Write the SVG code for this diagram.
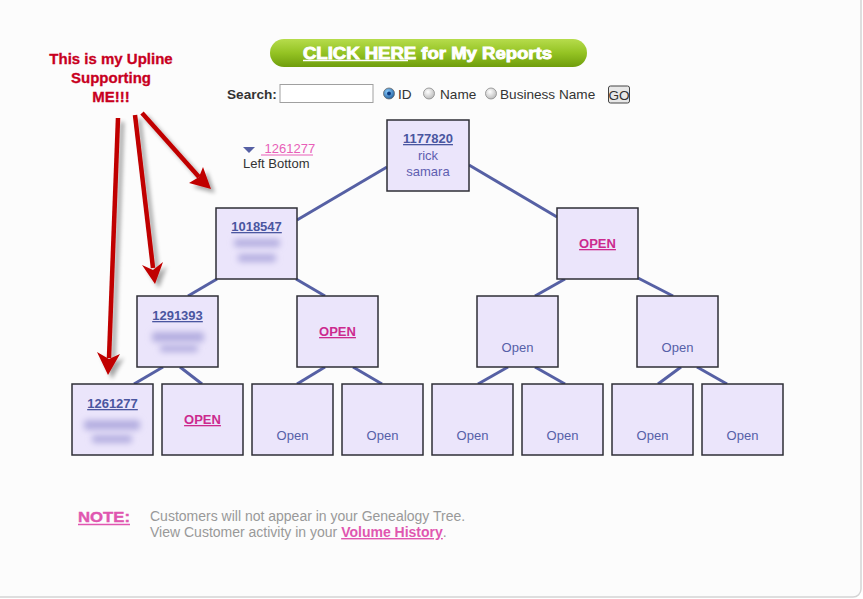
<svg xmlns="http://www.w3.org/2000/svg" width="863" height="599" viewBox="0 0 863 599">
<defs>
<style>
text{font-family:"Liberation Sans",Arial,sans-serif}
.box{fill:#ebe5fb;stroke:#2e2e36;stroke-width:1.5}
.conn line{stroke:#5660a4;stroke-width:3;stroke-linecap:butt}
.id{font-size:13px;font-weight:bold;fill:#4a56a0;text-decoration:underline}
.nm{font-size:13px;fill:#5e5eb0}
.openL{font-size:13px;font-weight:bold;fill:#cc2a8e;text-decoration:underline}
.open{font-size:13px;fill:#5660a8}
.blur{fill:#b4aee0;filter:url(#bl)}
.red{fill:#c00000;stroke:none}
.redl{stroke:#c00000;stroke-width:4.5;fill:none}
.lbl{font-size:13.6px;fill:#333}
.note{font-size:14px;fill:#999}
.ann{font-size:15px;font-weight:bold;fill:#c8001e;stroke:#c8001e;stroke-width:0.3}
</style>
<filter id="bl" x="-30%" y="-80%" width="160%" height="260%"><feGaussianBlur stdDeviation="3.2"/></filter>
<filter id="sh" x="-20%" y="-20%" width="140%" height="140%">
<feGaussianBlur in="SourceAlpha" stdDeviation="2"/>
<feOffset dx="4" dy="4" result="o"/>
<feComponentTransfer><feFuncA type="linear" slope="0.35"/></feComponentTransfer>
<feMerge><feMergeNode/><feMergeNode in="SourceGraphic"/></feMerge>
</filter>
<linearGradient id="gb" x1="0" y1="0" x2="0" y2="1">
<stop offset="0" stop-color="#b6dc4c"/>
<stop offset="0.5" stop-color="#94c323"/>
<stop offset="1" stop-color="#6f9d0c"/>
</linearGradient>
<radialGradient id="rad" cx="0.4" cy="0.35" r="0.7">
<stop offset="0" stop-color="#ffffff"/>
<stop offset="1" stop-color="#b8b8b8"/>
</radialGradient>
<radialGradient id="radsel" cx="0.4" cy="0.35" r="0.7">
<stop offset="0" stop-color="#8fd0ff"/>
<stop offset="1" stop-color="#1f5c9c"/>
</radialGradient>
</defs>

<rect x="0" y="0" width="863" height="599" fill="#ffffff"/>
<rect x="-10" y="-10" width="871" height="607" rx="8" fill="#fcfcfc" stroke="#d4d4d4" stroke-width="1.5"/>

<!-- header button -->
<g id="reports-button">
<rect x="270" y="39" width="317" height="28" rx="14" fill="url(#gb)"/>
<text x="303" y="58.5" font-size="16" font-weight="bold" fill="#ffffff" stroke="#ffffff" stroke-width="0.9" textLength="249" lengthAdjust="spacingAndGlyphs">CLICK HERE for My Reports</text>
<line x1="303" y1="60.5" x2="408" y2="60.5" stroke="#ffffff" stroke-width="1.4"/>
</g>

<!-- search row -->
<g id="search">
<text x="227" y="99" class="lbl" font-weight="bold">Search:</text>
<rect x="280" y="84.5" width="93" height="18" fill="#ffffff" stroke="#a0a0a0"/>
<circle cx="389" cy="93.5" r="5.5" fill="url(#radsel)" stroke="#6a6a6a" stroke-width="0.8"/>
<circle cx="389" cy="93.5" r="2" fill="#0d3a80"/>
<text x="398" y="99" class="lbl">ID</text>
<circle cx="429" cy="93.5" r="5.5" fill="url(#rad)" stroke="#8a8a8a" stroke-width="0.8"/>
<text x="440" y="99" class="lbl">Name</text>
<circle cx="491" cy="93.5" r="5.5" fill="url(#rad)" stroke="#8a8a8a" stroke-width="0.8"/>
<text x="500" y="99" class="lbl">Business Name</text>
<rect x="608.5" y="86" width="21" height="17" rx="2" fill="#e8e8e8" stroke="#444"/>
<text x="619" y="99.5" class="lbl" text-anchor="middle" fill="#111">GO</text>
</g>

<!-- left bottom link -->
<g id="left-bottom">
<polygon points="243,147 255,147 249,153" fill="#5660a4"/>
<text x="261" y="153" font-size="13" fill="#e85fb8" xml:space="preserve"> 1261277</text>
<line x1="261" y1="155" x2="313" y2="155" stroke="#e85fb8" stroke-width="1"/>
<text x="243" y="168" font-size="13" fill="#333">Left Bottom</text>
</g>

<!-- connectors -->
<g id="connectors" class="conn">
<line x1="387" y1="167" x2="297" y2="220"/>
<line x1="469" y1="165" x2="557" y2="217"/>
<line x1="217" y1="279" x2="188" y2="296"/>
<line x1="296" y1="279" x2="325" y2="296"/>
<line x1="565" y1="279" x2="535" y2="296"/>
<line x1="638" y1="278" x2="673" y2="296"/>
<line x1="163" y1="367" x2="134" y2="384"/>
<line x1="180" y1="367" x2="202" y2="384"/>
<line x1="325" y1="367" x2="297" y2="384"/>
<line x1="353" y1="367" x2="382" y2="384"/>
<line x1="508" y1="367" x2="478" y2="384"/>
<line x1="535" y1="367" x2="565" y2="384"/>
<line x1="681" y1="367" x2="658" y2="384"/>
<line x1="697" y1="367" x2="727" y2="384"/>
</g>

<!-- nodes -->
<g id="n1177820">
<rect class="box" x="387" y="120" width="82" height="71"/>
<text class="id" x="428" y="143" text-anchor="middle">1177820</text>
<text class="nm" x="428" y="160" text-anchor="middle">rick</text>
<text class="nm" x="428" y="176" text-anchor="middle">samara</text>
</g>
<g id="n1018547">
<rect class="box" x="216" y="208" width="81" height="71"/>
<text class="id" x="256.5" y="231" text-anchor="middle">1018547</text>
<rect class="blur" x="234" y="239" width="46" height="8" rx="3"/>
<rect class="blur" x="238" y="254" width="38" height="8" rx="3"/>
</g>
<g id="nOpenR1">
<rect class="box" x="557" y="208" width="81" height="71"/>
<text class="openL" x="597.5" y="248" text-anchor="middle">OPEN</text>
</g>
<g id="n1291393">
<rect class="box" x="137" y="296" width="81" height="71"/>
<text class="id" x="177.5" y="320" text-anchor="middle">1291393</text>
<rect class="blur" x="152" y="332" width="52" height="10" rx="3"/>
<rect class="blur" x="160" y="345" width="38" height="7" rx="3"/>
</g>
<g id="nOpenL2">
<rect class="box" x="297" y="296" width="81" height="71"/>
<text class="openL" x="337.5" y="336" text-anchor="middle">OPEN</text>
</g>
<g id="nOpen2c">
<rect class="box" x="477" y="296" width="81" height="71"/>
<text class="open" x="517.5" y="352" text-anchor="middle">Open</text>
</g>
<g id="nOpen2d">
<rect class="box" x="637" y="296" width="81" height="71"/>
<text class="open" x="677.5" y="352" text-anchor="middle">Open</text>
</g>
<g id="n1261277">
<rect class="box" x="72" y="384" width="81" height="71"/>
<text class="id" x="112.5" y="408" text-anchor="middle">1261277</text>
<rect class="blur" x="84" y="420" width="56" height="10" rx="3"/>
<rect class="blur" x="92" y="435" width="40" height="8" rx="3"/>
</g>
<g id="nOpen3b">
<rect class="box" x="162" y="384" width="81" height="71"/>
<text class="openL" x="202.5" y="424" text-anchor="middle">OPEN</text>
</g>
<g id="nOpen3c">
<rect class="box" x="252" y="384" width="81" height="71"/>
<text class="open" x="292.5" y="440" text-anchor="middle">Open</text>
</g>
<g id="nOpen3d">
<rect class="box" x="342" y="384" width="81" height="71"/>
<text class="open" x="382.5" y="440" text-anchor="middle">Open</text>
</g>
<g id="nOpen3e">
<rect class="box" x="432" y="384" width="81" height="71"/>
<text class="open" x="472.5" y="440" text-anchor="middle">Open</text>
</g>
<g id="nOpen3f">
<rect class="box" x="522" y="384" width="81" height="71"/>
<text class="open" x="562.5" y="440" text-anchor="middle">Open</text>
</g>
<g id="nOpen3g">
<rect class="box" x="612" y="384" width="81" height="71"/>
<text class="open" x="652.5" y="440" text-anchor="middle">Open</text>
</g>
<g id="nOpen3h">
<rect class="box" x="702" y="384" width="81" height="71"/>
<text class="open" x="742.5" y="440" text-anchor="middle">Open</text>
</g>

<!-- annotation -->
<g id="annotation">
<text x="111" y="64" class="ann" text-anchor="middle">This is my Upline</text>
<text x="111" y="83" class="ann" text-anchor="middle">Supporting</text>
<text x="111" y="102" class="ann" text-anchor="middle">ME!!!</text>
<g filter="url(#sh)">
<line class="redl" x1="118" y1="118" x2="109" y2="358"/>
<polygon class="red" points="108,375 97,352 109,359 120,354"/>
<line class="redl" x1="135" y1="115" x2="153" y2="268"/>
<polygon class="red" points="155,284 142,265 153,270 163,262"/>
<line class="redl" x1="142" y1="113" x2="199" y2="177"/>
<polygon class="red" points="211,189 189,183 199,177 203,167"/>
</g>
</g>

<!-- note -->
<g id="note">
<text x="78" y="522" font-size="15" font-weight="bold" fill="#e056b0" stroke="#e056b0" stroke-width="0.4" textLength="52" lengthAdjust="spacingAndGlyphs">NOTE:</text>
<line x1="78" y1="524.5" x2="130" y2="524.5" stroke="#e056b0" stroke-width="1.3"/>
<text x="150" y="521" class="note">Customers will not appear in your Genealogy Tree.</text>
<text x="150" y="537" class="note">View Customer activity in your <tspan fill="#e056b0" font-weight="bold" text-decoration="underline">Volume History</tspan>.</text>
</g>
</svg>
